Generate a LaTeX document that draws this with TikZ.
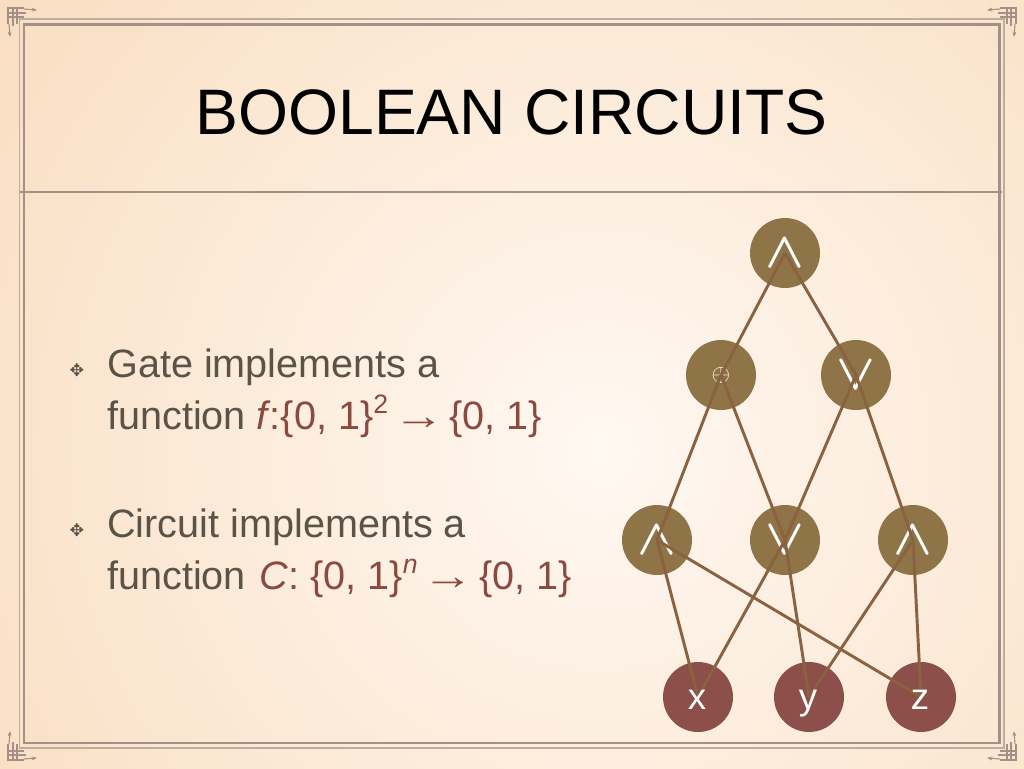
\RequirePackage{fix-cm}
\documentclass[tikz,border=0pt]{standalone}
\usepackage{fontspec}
\setmainfont{Liberation Sans}
\newfontfamily\symfont{DejaVu Sans}
\usetikzlibrary{arrows.meta}
\definecolor{peach}{HTML}{F9DDBF}
\definecolor{paper}{HTML}{FFF8F2}
\definecolor{framec}{HTML}{A39188}
\definecolor{framelt}{HTML}{BFAC9F}
\definecolor{bodytxt}{HTML}{5A5348}
\definecolor{accent}{HTML}{8B4A40}
\definecolor{olive}{HTML}{8E7447}
\definecolor{wine}{HTML}{8C4F49}
\definecolor{wire}{HTML}{8A6240}
\newcommand{\supfont}{\fontsize{20}{20}\selectfont}
\newcommand{\longarrowmark}{\makebox[1em]{\scalebox{1.3}[1]{→}}}
\tikzset{
  x=0.75pt,y=-0.75pt,
  gate/.style={circle,fill=olive,draw=none,minimum size=52.5pt,inner sep=0pt,text=white,font=\boldmath\fontsize{38}{38}\selectfont},
  xorgate/.style={gate,font=\fontsize{18}{18}\selectfont},
  inp/.style={circle,fill=wine,draw=none,minimum size=52.5pt,inner sep=0pt},
  inplabel/.style={anchor=base,inner sep=0pt,text=white,font=\fontsize{27.5}{27.5}\selectfont},
  wireline/.style={draw=wire,line width=2.2pt},
  bodyline/.style={anchor=base west,inner sep=0pt,text=bodytxt,font=\fontsize{29.7}{29.7}\selectfont},
  bulletmark/.style={inner sep=0pt,text=bodytxt,font=\symfont\fontsize{13}{13}\selectfont},
  knot/.style={draw=framec,line width=0.8pt},
  tip/.style={knot,-{Stealth[length=4pt,width=3pt]}},
  pics/ornament/.style={code={
    \draw[knot] (7,8)--(24,8) (7,13)--(26,13) (7,17)--(24,17);
    \draw[knot] (8,7)--(8,24) (13,7)--(13,26) (17,7)--(17,24);
    \draw[tip] (24,9)--(37,10);
    \draw[tip] (9,24)--(10,37);
  }}
}
\begin{document}
\begin{tikzpicture}
\useasboundingbox (0,0) rectangle (1024,768);
\begin{scope}
\clip (0,0) rectangle (1024,768);
\shade[inner color=paper,outer color=peach] (600,450) circle [radius=780];
\end{scope}
\draw[framelt,line width=1.1pt] (19.5,19) rectangle (1004,748);
\draw[framec,line width=2pt] (24,24.5) rectangle (999.5,743);
\draw[framec,line width=1.5pt] (20,191.5) -- (1002,191.5);
\pic at (0,0) {ornament};
\pic[xscale=-1] at (1024,0) {ornament};
\pic[yscale=-1] at (0,768) {ornament};
\pic[xscale=-1,yscale=-1] at (1024,768) {ornament};
\node[anchor=base,inner sep=0pt,text=black,font=\fontsize{48.2}{48.2}\selectfont] (title) at (511.5,134) {BOOLEAN CIRCUITS};
\node[bulletmark] (b1) at (77,370) {✥};
\node[bulletmark] (b2) at (77,530) {✥};
\node[bodyline] (l1) at (107,377) {Gate implements a};
\node[bodyline] (l2) at (107,429) {function \textcolor{accent}{\textit{f}\kern-0.04em:\{0, 1\}\raisebox{0.38em}{\supfont 2} \longarrowmark{} \{0, 1\}}};
\node[bodyline] (l3) at (107,537) {Circuit implements a};
\node[bodyline] (l4) at (107,589) {function \kern2pt\textcolor{accent}{\textit{C}: \{0, 1\}\raisebox{0.38em}{\supfont\textit{n}} \longarrowmark{} \{0, 1\}}};
\node[gate] (top) at (785,253) {$\wedge$};
\node[xorgate] (xor) at (721,375) {$\oplus$};
\node[gate] (orA) at (856,375) {$\vee$};
\node[gate] (andL) at (657,540) {$\wedge$};
\node[gate] (orB) at (785,540) {$\vee$};
\node[gate] (andR) at (913,540) {$\wedge$};
\node[inp] (x) at (698,697) {};
\node[inp] (y) at (809,697) {};
\node[inp] (z) at (921,697) {};
\foreach \a/\b in {top/xor,top/orA,xor/andL,xor/orB,orA/orB,orA/andR,andL/x,andL/z,orB/x,orB/y,andR/y,andR/z}
  \draw[wireline] (\a.center) -- (\b.center);
\node[inplabel] (xl) at (697,709) {x};
\node[inplabel] (yl) at (808,709) {y};
\node[inplabel] (zl) at (920,709) {z};
\end{tikzpicture}
\end{document}
